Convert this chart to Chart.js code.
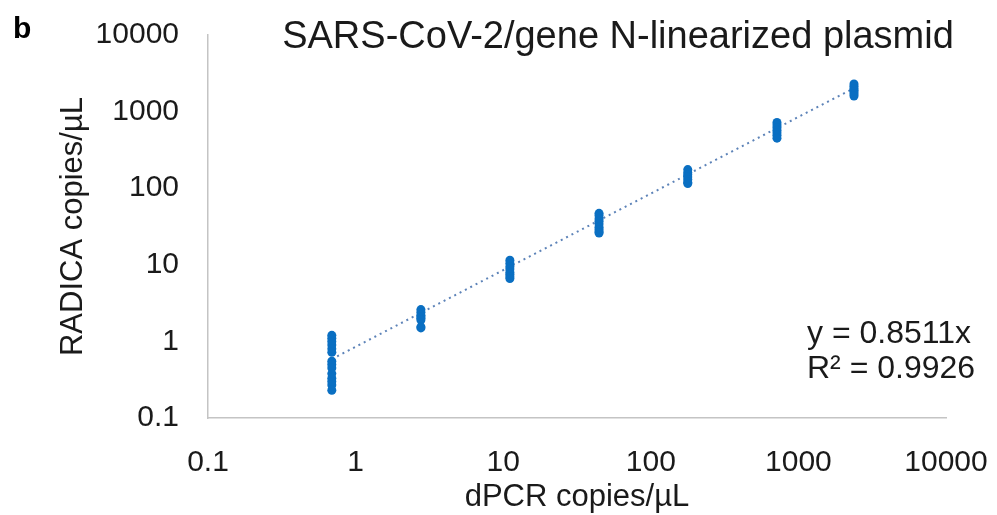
<!DOCTYPE html>
<html>
<head>
<meta charset="utf-8">
<script src="https://cdn.jsdelivr.net/npm/chart.js@4"></script>
<style>
  html, body { margin: 0; padding: 0; background: #fff; }
  #wrap { width: 997px; height: 515px; }
</style>
</head>
<body>
<div id="wrap"><canvas id="chart" width="997" height="515"></canvas></div>
<script>
// dPCR concentration of each dilution (x) and the RADICA readings (y) for it
const dpcrLevels = [0.69, 2.77, 11.1, 44.6, 178, 716, 2380];
const radicaL1 = [1.2, 1.1, 1.0, 0.9, 0.8, 0.72, 0.55, 0.5, 0.45, 0.38, 0.33, 0.3, 0.27, 0.23];
const radicaL2 = [2.6, 2.4, 2.2, 2.1, 2.0, 1.9, 1.55, 1.5];
const radicaL3 = [11.5, 10.5, 9.5, 8.8, 8.0, 7.5, 7.0, 6.6];
const radicaL4 = [47, 44, 40, 37, 34, 31, 29, 27, 26];
const radicaL5 = [175, 160, 150, 140, 130, 120, 115];
const radicaL6 = [720, 670, 620, 570, 530, 490, 450];
const radicaL7 = [2300, 2150, 2000, 1900, 1800, 1700, 1600];
const radicaGroups = [radicaL1, radicaL2, radicaL3, radicaL4, radicaL5, radicaL6, radicaL7];

const slope = 0.8511;
const r2 = 0.9926;
const xTicks = [0.1, 1, 10, 100, 1000, 10000];
const yTicks = [0.1, 1, 10, 100, 1000, 10000];

const FONT = "'Liberation Sans', Arial, sans-serif";
const TEXT = "#1a1a1a";

const points = [];
radicaGroups.forEach((vals, i) => {
  vals.forEach((v) => points.push({ x: dpcrLevels[i], y: v }));
});

const xFirst = dpcrLevels[0];
const xLast = dpcrLevels[dpcrLevels.length - 1];
const trend = [
  { x: xFirst, y: slope * xFirst },
  { x: xLast, y: slope * xLast },
];

// extra text: panel letter, title and the fit equation
const textPlugin = {
  id: "extraText",
  afterDraw(chart) {
    const ctx = chart.ctx;
    ctx.save();
    ctx.fillStyle = "#000";
    ctx.textBaseline = "alphabetic";
    ctx.textAlign = "left";
    ctx.font = "bold 30px " + FONT;
    ctx.fillText("b", 13, 38);
    ctx.fillStyle = TEXT;
    ctx.textAlign = "center";
    ctx.font = "38px " + FONT;
    ctx.fillText("SARS-CoV-2/gene N-linearized plasmid", 618, 48);
    ctx.textAlign = "left";
    ctx.font = "32px " + FONT;
    ctx.fillText("y = " + slope + "x", 807, 343);
    ctx.fillText("R² = " + r2, 807, 378);
    ctx.restore();
  },
};

const ctx = document.getElementById("chart").getContext("2d");
new Chart(ctx, {
  type: "scatter",
  data: {
    datasets: [
      {
        label: "trend",
        type: "line",
        data: trend,
        borderColor: "#5d83b8",
        borderWidth: 2,
        borderDash: [2, 4],
        pointRadius: 0,
        fill: false,
        order: 2,
      },
      {
        label: "RADICA",
        data: points,
        backgroundColor: "#0a6fc2",
        borderColor: "#0a6fc2",
        pointRadius: 4.5,
        pointBorderWidth: 0,
        order: 1,
      },
    ],
  },
  options: {
    responsive: false,
    animation: false,
    layout: { padding: { top: 35, right: 51, bottom: 0, left: 0 } },
    plugins: {
      legend: { display: false },
      tooltip: { enabled: false },
    },
    scales: {
      x: {
        type: "logarithmic",
        min: 0.1,
        max: 10000,
        afterBuildTicks: (s) => { s.ticks = xTicks.map((v) => ({ value: v })); },
        afterFit: (s) => {
          s.height = 97;
          s.paddingLeft = 0;
          s.paddingRight = 0;
        },
        grid: { display: false, drawTicks: false },
        border: { display: true, color: "#c4c4c4", width: 1.5 },
        ticks: {
          color: TEXT,
          font: { family: FONT, size: 30 },
          padding: 27,
          maxRotation: 0,
          autoSkip: false,
          callback: (v) => String(v),
        },
        title: {
          display: true,
          text: "dPCR copies/µL",
          color: TEXT,
          font: { family: FONT, size: 31, lineHeight: 1.1 },
          padding: { top: 0, bottom: 0 },
        },
      },
      y: {
        type: "logarithmic",
        min: 0.1,
        max: 10000,
        afterBuildTicks: (s) => { s.ticks = yTicks.map((v) => ({ value: v })); },
        afterFit: (s) => {
          s.width = 208;
          s.paddingTop = 0;
          s.paddingBottom = 0;
        },
        grid: { display: false, drawTicks: false },
        border: { display: true, color: "#c4c4c4", width: 1.5 },
        ticks: {
          color: TEXT,
          font: { family: FONT, size: 30 },
          padding: 29,
          autoSkip: false,
          callback: (v) => String(v),
        },
        title: {
          display: true,
          text: "RADICA copies/µL",
          color: TEXT,
          font: { family: FONT, size: 31 },
          padding: { top: 55, bottom: 0 },
        },
      },
    },
  },
  plugins: [textPlugin],
});
</script>
</body>
</html>
